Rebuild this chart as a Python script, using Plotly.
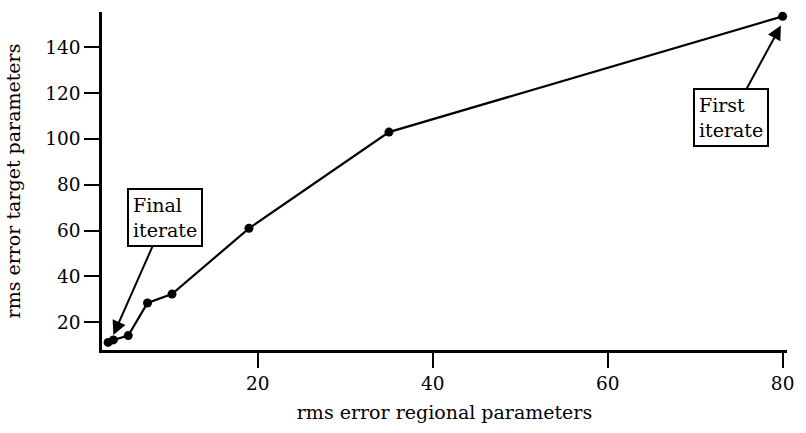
import plotly.graph_objects as go

# Convergence path: rms error of regional vs. target parameters per iterate
rms_regional = [80, 35, 19, 10.2, 7.4, 5.2, 3.5, 2.9]
rms_target = [153.5, 103, 61, 32.3, 28.4, 14.2, 12.3, 11.2]

x_ticks = [20, 40, 60, 80]
y_ticks = [20, 40, 60, 80, 100, 120, 140]

FONT = "DejaVu Serif"

fig = go.Figure()
fig.add_trace(go.Scatter(
    x=rms_regional,
    y=rms_target,
    mode="lines+markers",
    line=dict(color="black", width=2.2),
    marker=dict(color="black", size=9),
    showlegend=False,
    cliponaxis=False,
))

common_ann = dict(
    xref="x", yref="y", axref="x", ayref="y",
    showarrow=True, arrowhead=2, arrowsize=1.4, arrowwidth=2,
    arrowcolor="black",
    font=dict(family=FONT, size=19, color="black"),
    align="left",
    bordercolor="black", borderwidth=2, borderpad=4,
    bgcolor="white",
)

fig.add_annotation(
    x=79.8, y=149.5, ax=74.1, ay=109.4,
    text="First<br>iterate", **common_ann,
)
fig.add_annotation(
    x=3.5, y=14.5, ax=9.43, ay=65.7,
    text="Final<br>iterate", **common_ann,
)

fig.update_layout(
    width=806, height=433,
    margin=dict(l=102, r=13, t=12, b=83),
    paper_bgcolor="white",
    plot_bgcolor="white",
    font=dict(family=FONT, size=19, color="black"),
)

fig.update_xaxes(
    range=[2.2, 80.5],
    tickvals=x_ticks,
    showgrid=False, zeroline=False,
    showline=True, linecolor="black", linewidth=2.5,
    ticks="outside", ticklen=15, tickwidth=2, tickcolor="black",
    tickfont=dict(family=FONT, size=18.5),
    title=dict(text="rms error regional parameters",
               font=dict(family=FONT, size=19), standoff=13),
)
fig.update_yaxes(
    range=[7.9, 155.4],
    tickvals=y_ticks,
    showgrid=False, zeroline=False,
    showline=True, linecolor="black", linewidth=2.5,
    ticks="outside", ticklen=15, tickwidth=2, tickcolor="black",
    tickfont=dict(family=FONT, size=18.5),
    title=dict(text="rms error target parameters",
               font=dict(family=FONT, size=19), standoff=20),
)

fig.write_html("out.html")
